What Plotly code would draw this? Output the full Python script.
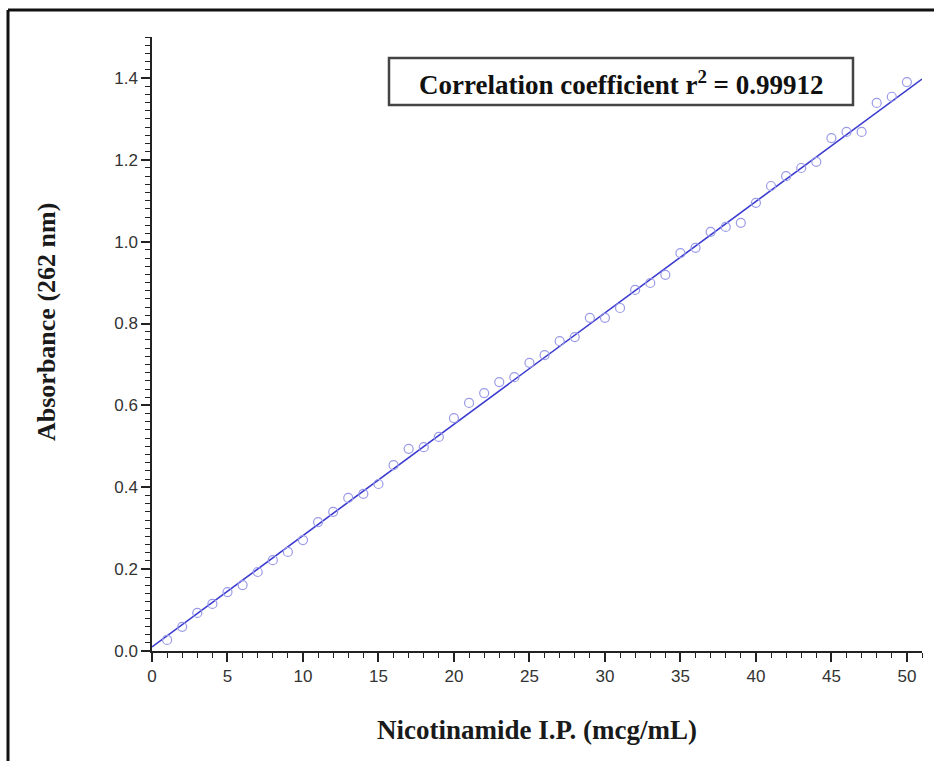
import plotly.graph_objects as go

# Calibration data: concentration (mcg/mL) vs absorbance at 262 nm
concentration = list(range(1, 51))
absorbance = [
    0.027, 0.059, 0.093, 0.115, 0.144, 0.161, 0.193, 0.222, 0.242, 0.271,
    0.315, 0.340, 0.374, 0.384, 0.408, 0.454, 0.494, 0.498, 0.523, 0.569,
    0.606, 0.630, 0.657, 0.669, 0.704, 0.723, 0.757, 0.767, 0.814, 0.814,
    0.838, 0.882, 0.899, 0.919, 0.972, 0.985, 1.024, 1.036, 1.046, 1.095,
    1.136, 1.160, 1.180, 1.195, 1.253, 1.268, 1.268, 1.339, 1.354, 1.390,
]

# Linear fit line endpoints
fit_x = [0, 51]
fit_intercept = 0.010
fit_slope = 0.0272
fit_y = [fit_intercept + fit_slope * v for v in fit_x]

x_ticks = list(range(0, 51, 5))
y_ticks = [0.0, 0.2, 0.4, 0.6, 0.8, 1.0, 1.2, 1.4]

# Plot area geometry in pixels (used to place the frame and the r² box)
W, H = 934, 761
ML, MR, MT, MB = 152, 12, 37, 110
PW, PH = W - ML - MR, H - MT - MB


def px(x):
    return (x - ML) / PW


def py(y):
    return (H - MB - y) / PH


fig = go.Figure()
fig.add_trace(go.Scatter(
    x=fit_x, y=fit_y, mode="lines",
    line=dict(color="#3b3bd0", width=1.6),
    showlegend=False, hoverinfo="skip",
))
fig.add_trace(go.Scatter(
    x=concentration, y=absorbance, mode="markers",
    marker=dict(symbol="circle-open", size=9, color="#9a9ae8",
                line=dict(width=1.2, color="#9a9ae8")),
    showlegend=False,
))

axis_font = dict(family="Liberation Sans, Arial", size=17, color="#333333")
serif = "Liberation Serif, Times New Roman"

fig.update_xaxes(
    range=[0, 51], tickvals=x_ticks, ticktext=[str(v) for v in x_ticks],
    showline=True, linecolor="#222222", linewidth=1.5,
    ticks="outside", ticklen=9, tickwidth=1.5, tickcolor="#222222",
    minor=dict(dtick=1, tick0=0, ticks="outside", ticklen=5,
               tickwidth=1.2, tickcolor="#222222"),
    showgrid=False, zeroline=False, tickfont=axis_font,
)
fig.update_yaxes(
    range=[0, 1.5], tickvals=y_ticks, ticktext=[f"{v:.1f}" for v in y_ticks],
    showline=True, linecolor="#222222", linewidth=1.5,
    ticks="outside", ticklen=9, tickwidth=1.5, tickcolor="#222222",
    minor=dict(dtick=0.02, tick0=0, ticks="outside", ticklen=5,
               tickwidth=1.2, tickcolor="#222222"),
    showgrid=False, zeroline=False, tickfont=axis_font,
)

# Axis titles
fig.add_annotation(
    xref="paper", yref="paper", x=px(537), y=py(730),
    text="<b>Nicotinamide I.P. (mcg/mL)</b>", showarrow=False,
    font=dict(family=serif, size=27, color="#1a1a1a"),
    xanchor="center", yanchor="middle",
)
fig.add_annotation(
    xref="paper", yref="paper", x=px(46), y=py(322),
    text="<b>Absorbance (262 nm)</b>", showarrow=False, textangle=-90,
    font=dict(family=serif, size=26, color="#1a1a1a"),
    xanchor="center", yanchor="middle",
)

# Correlation coefficient box
fig.add_shape(type="rect", xref="paper", yref="paper",
              x0=px(389), x1=px(853), y0=py(105), y1=py(58),
              line=dict(color="#444444", width=2.5), fillcolor="white")
fig.add_annotation(
    xref="paper", yref="paper", x=px(621), y=py(83),
    text="<b>Correlation coefficient r<sup>2</sup> = 0.99912</b>",
    showarrow=False, font=dict(family=serif, size=27, color="#111111"),
    xanchor="center", yanchor="middle",
)

# Outer frame edges (left and top)
fig.add_shape(type="line", xref="paper", yref="paper",
              x0=px(8), x1=px(8), y0=py(H), y1=py(10),
              line=dict(color="#111111", width=3))
fig.add_shape(type="line", xref="paper", yref="paper",
              x0=px(8), x1=px(W), y0=py(10), y1=py(10),
              line=dict(color="#111111", width=3))

fig.update_layout(
    width=W, height=H,
    margin=dict(l=ML, r=MR, t=MT, b=MB),
    paper_bgcolor="white", plot_bgcolor="white",
)

fig.write_html("out.html")
